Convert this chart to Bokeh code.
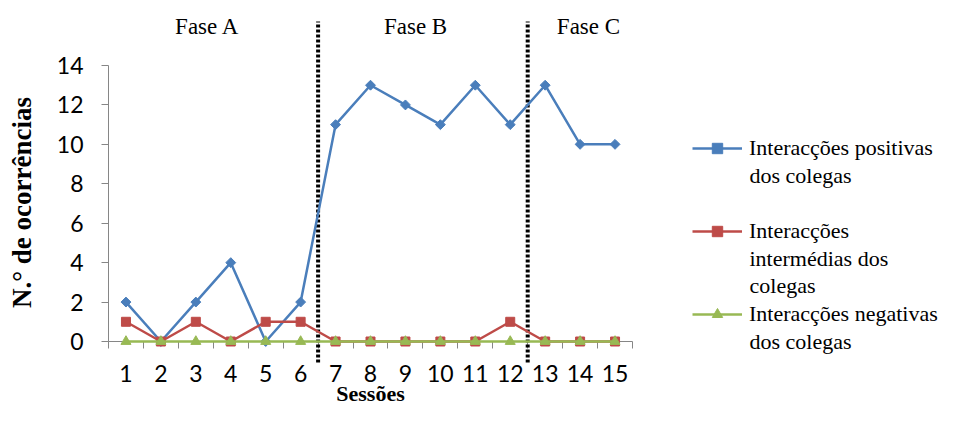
import math
from bokeh.plotting import figure
from bokeh.models import (FixedTicker, Range1d, Legend, LegendItem, Label,
                          ColumnDataSource)
from bokeh.embed import file_html
from bokeh.resources import INLINE

# ---- data ----
sessions = list(range(1, 16))
positivas = [2, 0, 2, 4, 0, 2, 11, 13, 12, 11, 13, 11, 13, 10, 10]
intermedias = [1, 0, 1, 0, 1, 1, 0, 0, 0, 0, 0, 1, 0, 0, 0]
negativas = [0, 0, 0, 0, 0, 0, 0, 0, 0, 0, 0, 0, 0, 0, 0]
series_first_lines = ["Interacções positivas", "Interacções", "Interacções negativas"]
series_more_lines = [["dos colegas"], ["intermédias dos", "colegas"], ["dos colegas"]]
phase_names = ["Fase A", "Fase B", "Fase C"]
phase_label_x = [3.33, 9.29, 14.24]
phase_bounds = [6.5, 12.5]
y_ticks = [0, 2, 4, 6, 8, 10, 12, 14]
x_title = "Sessões"
y_title = "N.° de ocorrências"

BLUE = "#4A7EBB"
RED = "#BE4B48"
GREEN = "#98B954"
AXIS = "#868686"
TICK_FONT = "Lato"
SERIF = "Liberation Serif"
LEG_FONT = "22px"

W, H = 941, 405
PX_X = 524 / 15.0       # pixels per session
PX_Y = 276 / 14.0       # pixels per occurrence
LEFT, BASE = 108, 341   # pixel position of x=0.5 and y=0
x0 = 0.5 - LEFT / PX_X
y0 = -(H - BASE) / PX_Y


def dx(px):
    return 0.5 + (px - LEFT) / PX_X


def dy(py):
    return (BASE - py) / PX_Y


src = ColumnDataSource(dict(x=sessions, pos=positivas, inter=intermedias, neg=negativas))

p = figure(width=W, height=H, output_backend="svg", toolbar_location=None,
           x_range=Range1d(x0, x0 + W / PX_X), y_range=Range1d(y0, y0 + H / PX_Y),
           min_border=0)
p.outline_line_color = None
p.grid.visible = False

# phase separators
p.segment(x0=phase_bounds, y0=[dy(362)] * 2, x1=phase_bounds, y1=[dy(21)] * 2,
          line_color="black", line_width=4, line_dash="3 2", line_cap="butt")

for name, xl in zip(phase_names, phase_label_x):
    p.add_layout(Label(x=xl, y=dy(26), text=name, text_font=SERIF, text_font_size="23px",
                       text_align="center", text_baseline="middle", text_color="black"))

r1l = p.line("x", "pos", source=src, line_color=BLUE, line_width=2.5)
r1m = p.scatter("x", "pos", source=src, marker="square", angle=math.pi / 4, size=7,
                fill_color=BLUE, line_color=BLUE)
r2l = p.line("x", "inter", source=src, line_color=RED, line_width=2.5)
r2m = p.scatter("x", "inter", source=src, marker="square", size=9,
                fill_color=RED, line_color=RED)
r3l = p.line("x", "neg", source=src, line_color=GREEN, line_width=2.5)
r3m = p.scatter("x", "neg", source=src, marker="triangle", size=10,
                fill_color=GREEN, line_color=GREEN)

# x axis (drawn at y = 0)
xa = p.xaxis[0]
xa.fixed_location = 0
xa.bounds = (0.5, 15.5)
xa.level = "underlay"
xa.ticker = FixedTicker(ticks=sessions, minor_ticks=[i + 0.5 for i in range(0, 16)])
xa.major_tick_out = 0
xa.major_tick_in = 0
xa.minor_tick_out = 7
xa.minor_tick_in = 0
xa.axis_line_color = AXIS
xa.minor_tick_line_color = AXIS
xa.major_label_text_font = TICK_FONT
xa.major_label_text_font_size = "23px"
xa.major_label_text_color = "black"
xa.major_label_standoff = 16

# y axis (drawn at x = 0.5)
ya = p.yaxis[0]
ya.fixed_location = 0.5
ya.bounds = (0, 14)
ya.level = "underlay"
ya.ticker = FixedTicker(ticks=y_ticks, minor_ticks=[])
ya.major_tick_out = 7
ya.major_tick_in = 0
ya.minor_tick_out = 0
ya.minor_tick_in = 0
ya.axis_line_color = AXIS
ya.major_tick_line_color = AXIS
ya.major_label_text_font = TICK_FONT
ya.major_label_text_font_size = "23px"
ya.major_label_text_color = "black"
ya.major_label_standoff = 18

p.add_layout(Label(x=8.0, y=dy(393), text=x_title, text_font=SERIF, text_font_style="bold",
                   text_font_size="22px", text_align="center", text_baseline="middle",
                   text_color="black"))
p.add_layout(Label(x=dx(21), y=dy(202), text=y_title, angle=math.pi / 2,
                   text_font=SERIF, text_font_style="bold", text_font_size="27px",
                   text_align="center", text_baseline="middle", text_color="black"))

# legend: glyph + first line; following lines of each entry beneath it
ITEM_H = 26
PITCH = 83
FIRST_Y = 148
legend = Legend(items=[LegendItem(label=series_first_lines[0], renderers=[r1l, r1m]),
                       LegendItem(label=series_first_lines[1], renderers=[r2l, r2m]),
                       LegendItem(label=series_first_lines[2], renderers=[r3l, r3m])],
                location=(692, H - (FIRST_Y - ITEM_H / 2 + 3 * ITEM_H + 2 * (PITCH - ITEM_H))),
                glyph_width=50, glyph_height=ITEM_H, label_height=ITEM_H,
                label_standoff=7, padding=0, margin=0, spacing=PITCH - ITEM_H,
                border_line_color=None, background_fill_alpha=0,
                label_text_font=SERIF, label_text_font_size=LEG_FONT,
                label_text_color="black", label_text_baseline="middle")
p.add_layout(legend)

LINE_PITCH = 27
for i, more in enumerate(series_more_lines):
    for j, txt in enumerate(more):
        p.add_layout(Label(x=dx(749), y=dy(FIRST_Y + i * PITCH + (j + 1) * LINE_PITCH),
                           text=txt, text_font=SERIF, text_font_size=LEG_FONT,
                           text_align="left", text_baseline="middle", text_color="black"))

open("out.html", "w").write(file_html(p, INLINE))
